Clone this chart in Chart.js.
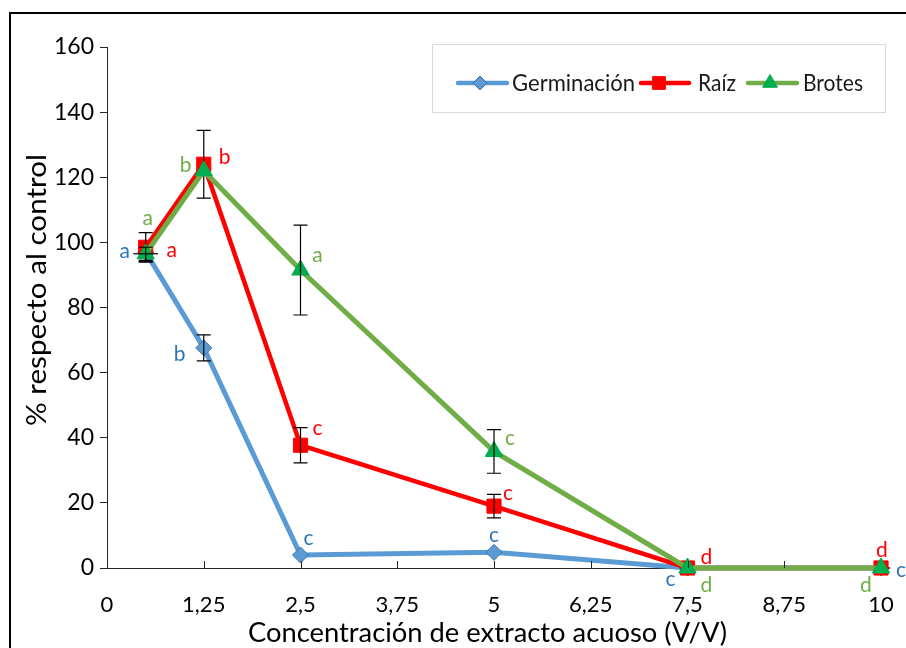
<!DOCTYPE html>
<html>
<head>
<meta charset="utf-8">
<script src="https://cdn.jsdelivr.net/npm/chart.js@4"></script>
<style>
  body { margin: 0; background: #fff; }
  #wrap { position: relative; width: 906px; height: 648px; overflow: hidden; }
  #marco { position: absolute; left: 9px; top: 12px; width: 920px; height: 660px; border: 2px solid #000; }
  canvas { position: absolute; left: 0; top: 0; }
</style>
</head>
<body>
<div id="wrap">
  <div id="marco"></div>
  <canvas id="grafico" width="906" height="648"></canvas>
</div>
<script>
// concentraciones del extracto (V/V)
const concentraciones = [0.5, 1.25, 2.5, 5, 7.5, 10]

// % respecto al control
const germinacion = [97, 67.6, 4, 4.8, 0, 0]
const raiz = [98.5, 124, 37.7, 19, 0, 0]
const brotes = [96.5, 122, 91.5, 35.8, 0, 0]

// barras de error verticales
const errGerminacion = [3, 4, 0, 0, 0, 0]
const errRaiz = [4.5, 10.4, 5.4, 3.6, 0, 0]
const errBrotes = [2, 0, 13.8, 6.7, 0, 0]
// barras de error horizontales
const errXGerminacion = [0, 0, 0, 0, 0, 0.12]
const errXRaiz = [0, 0, 0, 0, 0, 0]
const errXBrotes = [0.16, 0, 0, 0, 0, 0]

// letras de la prueba de medias
const letrasGerminacion = ['a', 'b', 'c', 'c', 'c', 'c']
const letrasRaiz = ['a', 'b', 'c', 'c', 'd', 'd']
const letrasBrotes = ['a', 'b', 'a', 'c', 'd', 'd']

const ticksX = [0, 1.25, 2.5, 3.75, 5, 6.25, 7.5, 8.75, 10]
const ticksY = [0, 20, 40, 60, 80, 100, 120, 140, 160]

// desplazamiento (px) de cada letra respecto a su punto
const posGerminacion = [[-21, -1], [-24, 6], [8, -17], [0, -17], [-17, 11], [20, 2]]
const posRaiz = [[26, 3], [21, -7], [17, -17], [14, -13], [19, -11], [1, -18]]
const posBrotes = [[2, -36], [-18, -6], [17, -15], [16, -13], [19, 17], [-15, 17]]

const FUENTE = 'Lato, "Open Sans", sans-serif'

const puntos = (ys) => concentraciones.map((x, i) => ({ x: x, y: ys[i] }))

const series = [
  {
    label: 'Germinación',
    data: puntos(germinacion),
    borderColor: '#5B9BD5',
    backgroundColor: '#5B9BD5',
    pointBackgroundColor: '#5B9BD5',
    pointBorderColor: '#41719C',
    pointBorderWidth: 1,
    pointStyle: 'rectRot',
    pointRadius: 8,
    borderWidth: 5,
    order: 3,
    errY: errGerminacion, errX: errXGerminacion,
    letras: letrasGerminacion, pos: posGerminacion, colorLetra: '#2E75B6'
  },
  {
    label: 'Raíz',
    data: puntos(raiz),
    borderColor: '#FF0000',
    backgroundColor: '#FF0000',
    pointBackgroundColor: '#FF0000',
    pointBorderColor: '#FF0000',
    pointBorderWidth: 1,
    pointStyle: 'rect',
    pointRadius: 10,
    borderWidth: 4.5,
    order: 2,
    errY: errRaiz, errX: errXRaiz,
    letras: letrasRaiz, pos: posRaiz, colorLetra: '#FF0000'
  },
  {
    label: 'Brotes',
    data: puntos(brotes),
    borderColor: '#70AD47',
    backgroundColor: '#70AD47',
    pointBackgroundColor: '#00B050',
    pointBorderColor: '#00A84A',
    pointBorderWidth: 1,
    pointStyle: 'triangle',
    pointRadius: 10,
    borderWidth: 5,
    order: 1,
    errY: errBrotes, errX: errXBrotes,
    letras: letrasBrotes, pos: posBrotes, colorLetra: '#70AD47'
  }
]

// texto estirado/comprimido a un ancho dado
function textoAjustado(ctx, texto, cx, cy, ancho, rot) {
  const w = ctx.measureText(texto).width
  ctx.save()
  ctx.translate(cx, cy)
  if (rot) ctx.rotate(rot)
  ctx.scale(ancho / w, 1)
  ctx.textAlign = 'center'
  ctx.textBaseline = 'middle'
  ctx.fillText(texto, 0, 0)
  ctx.restore()
}

const extras = {
  id: 'extras',
  afterDatasetDraw(chart, args) {
    const ds = chart.data.datasets[args.index]
    const ctx = chart.ctx
    const sx = chart.scales.x, sy = chart.scales.y
    ctx.save()
    ctx.strokeStyle = '#000'
    ctx.lineWidth = 1.2
    ds.data.forEach((p, i) => {
      const px = sx.getPixelForValue(p.x)
      const py = sy.getPixelForValue(p.y)
      const e = ds.errY[i]
      if (e > 0) {
        const y1 = sy.getPixelForValue(p.y + e)
        const y2 = sy.getPixelForValue(p.y - e)
        ctx.beginPath()
        ctx.moveTo(px, y1); ctx.lineTo(px, y2)
        ctx.moveTo(px - 7, y1); ctx.lineTo(px + 7, y1)
        ctx.moveTo(px - 7, y2); ctx.lineTo(px + 7, y2)
        ctx.stroke()
      }
      const ex = ds.errX[i]
      if (ex > 0) {
        ctx.beginPath()
        ctx.moveTo(sx.getPixelForValue(p.x - ex), py)
        ctx.lineTo(sx.getPixelForValue(p.x + ex), py)
        ctx.stroke()
      }
    })
    ctx.restore()
  },
  afterDatasetsDraw(chart) {
    const ctx = chart.ctx
    const sx = chart.scales.x, sy = chart.scales.y
    ctx.save()
    ctx.font = '21px ' + FUENTE
    ctx.textAlign = 'center'
    ctx.textBaseline = 'middle'
    chart.data.datasets.forEach(ds => {
      ctx.fillStyle = ds.colorLetra
      ds.data.forEach((p, i) => {
        const px = sx.getPixelForValue(p.x) + ds.pos[i][0]
        const py = sy.getPixelForValue(p.y) + ds.pos[i][1]
        ctx.fillText(ds.letras[i], px, py)
      })
    })
    ctx.restore()
  },
  afterDraw(chart) {
    const ctx = chart.ctx
    const sx = chart.scales.x
    const base = chart.chartArea.bottom
    ctx.save()
    // marcas del eje X hacia adentro
    ctx.strokeStyle = '#262626'
    ctx.lineWidth = 1
    ticksX.slice(1, -1).forEach(v => {
      const x = Math.round(sx.getPixelForValue(v)) + 0.5
      ctx.beginPath()
      ctx.moveTo(x, base); ctx.lineTo(x, base - 7)
      ctx.stroke()
    })

    // títulos de los ejes
    ctx.fillStyle = '#000'
    ctx.font = '26px ' + FUENTE
    textoAjustado(ctx, 'Concentración de extracto acuoso (V/V)', 487.5, 634, 479)
    textoAjustado(ctx, '% respecto al control', 38, 290, 272, -Math.PI / 2)

    // leyenda
    ctx.strokeStyle = '#D9D9D9'
    ctx.lineWidth = 1
    ctx.strokeRect(432.5, 44.5, 453, 68)
    const yl = 83
    const items = [
      { ds: series[0], x1: 458, x2: 507, mx: 480, tx: 512, tw: 123, r: 7 },
      { ds: series[1], x1: 641, x2: 689, mx: 659, tx: 698, tw: 38, r: 9 },
      { ds: series[2], x1: 748, x2: 797, mx: 770, tx: 803, tw: 60, r: 8.5 }
    ]
    items.forEach(it => {
      ctx.strokeStyle = it.ds.borderColor
      ctx.lineWidth = 4.5
      ctx.lineCap = 'round'
      ctx.beginPath()
      ctx.moveTo(it.x1, yl); ctx.lineTo(it.x2, yl)
      ctx.stroke()
      ctx.lineCap = 'butt'
      ctx.fillStyle = it.ds.pointBackgroundColor
      ctx.strokeStyle = it.ds.pointBorderColor
      ctx.lineWidth = 1
      Chart.helpers.drawPoint(ctx, { pointStyle: it.ds.pointStyle, radius: it.r, rotation: 0, borderWidth: 1 }, it.mx, yl)
      ctx.fillStyle = '#1a1a1a'
      ctx.font = '24px ' + FUENTE
      textoAjustado(ctx, it.ds.label, it.tx + it.tw / 2, yl, it.tw)
    })
    ctx.restore()
  }
}

const fmt = (v) => String(v).replace('.', ',')

new Chart(document.getElementById('grafico'), {
  type: 'line',
  data: { datasets: series },
  options: {
    responsive: false,
    animation: false,
    layout: { padding: { top: 47, right: 25, left: 0, bottom: 0 } },
    datasets: { line: { clip: false, tension: 0 } },
    plugins: {
      legend: { display: false },
      tooltip: { enabled: false }
    },
    scales: {
      x: {
        type: 'linear',
        min: 0,
        max: 10,
        afterBuildTicks: (s) => { s.ticks = ticksX.map(v => ({ value: v })) },
        afterFit: (s) => { s.height = 80; s.paddingLeft = 0; s.paddingRight = 0 },
        ticks: {
          callback: fmt,
          autoSkip: false,
          maxRotation: 0,
          padding: 24,
          color: '#000',
          font: { family: FUENTE, size: 22 }
        },
        grid: { drawOnChartArea: false, drawTicks: false, display: false },
        border: { display: true, color: '#262626', width: 1 }
      },
      y: {
        min: 0,
        max: 160,
        afterBuildTicks: (s) => { s.ticks = ticksY.map(v => ({ value: v })) },
        afterFit: (s) => { s.width = 107; s.paddingTop = 0; s.paddingBottom = 0 },
        ticks: {
          padding: 6,
          color: '#000',
          font: { family: FUENTE, size: 23 }
        },
        grid: { drawOnChartArea: false, drawTicks: true, tickLength: 7, color: '#262626' },
        border: { display: true, color: '#262626', width: 1 }
      }
    }
  },
  plugins: [extras]
})
</script>
</body>
</html>
